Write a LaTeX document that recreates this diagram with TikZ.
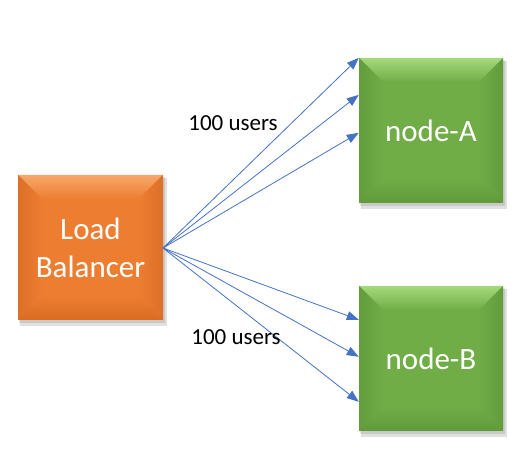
\documentclass[tikz,border=0pt]{standalone}
\usepackage{fontspec}
\setmainfont{Carlito}
\usetikzlibrary{arrows.meta}
\definecolor{arrowblue}{HTML}{4472C4}
\definecolor{orbase}{HTML}{ED7D31}
\definecolor{ortop}{HTML}{F6A86A}
\definecolor{orside}{HTML}{DC7028}
\definecolor{orbot}{HTML}{D86C22}
\definecolor{grbase}{HTML}{70AD47}
\definecolor{grtop}{HTML}{A6D97C}
\definecolor{grside}{HTML}{629C3C}
\definecolor{grbot}{HTML}{5F9A39}
\newcommand{\bevelbox}[7]{%
  % #1 name, #2 x1, #3 y1, #4 x2, #5 y2, #6 color prefix, #7 text
  \fill[black,opacity=0.12] (#2+2,#3+3) rectangle (#4+4,#5+6);
  \fill[black,opacity=0.10] (#2+1,#3+2) rectangle (#4+2,#5+3);
  \fill[#6base] (#2,#3) rectangle (#4,#5);
  \shade[top color=#6top,bottom color=#6base] (#2,#3) -- (#4,#3) -- (#4-24,#3+24) -- (#2+24,#3+24) -- cycle;
  \shade[left color=#6side,right color=#6base] (#2,#3) -- (#2+24,#3+24) -- (#2+24,#5-24) -- (#2,#5) -- cycle;
  \shade[left color=#6base,right color=#6side] (#4,#3) -- (#4-24,#3+24) -- (#4-24,#5-24) -- (#4,#5) -- cycle;
  \shade[top color=#6base,bottom color=#6bot] (#2,#5) -- (#2+24,#5-24) -- (#4-24,#5-24) -- (#4,#5) -- cycle;
  \fill[#6base] (#2+24,#3+24) rectangle (#4-24,#5-24);
  \node[boxtext] (#1) at ({(#2+#4)/2},{(#3+#5)/2}) [minimum width=#4-#2, minimum height=#5-#3] {#7};
}
\begin{document}
\begin{tikzpicture}[x=1pt,y=-1pt,
  boxtext/.style={text=white,font=\fontsize{31}{38}\selectfont,align=center,inner sep=0pt},
  lbl/.style={text=black,font=\fontsize{23}{28}\selectfont,inner sep=0pt},
  conn/.style={arrowblue,line width=0.8pt,-{Triangle[length=12pt,width=9pt]}}]
\useasboundingbox (0,0) rectangle (531,457);
\bevelbox{lb}{18}{175}{163}{320}{or}{Load\\Balancer}
\bevelbox{na}{359}{58}{503}{203}{gr}{node-A}
\bevelbox{nb}{359}{286}{503}{431}{gr}{node-B}
\coordinate (src) at (163,248);
\draw[conn] (src) -- (na.north west);
\draw[conn] (src) -- ([yshift=-37pt]na.north west);
\draw[conn] (src) -- ([yshift=-75pt]na.north west);
\draw[conn] (src) -- ([yshift=-34pt]nb.north west);
\draw[conn] (src) -- ([yshift=-71pt]nb.north west);
\draw[conn] (src) -- ([yshift=-116pt]nb.north west);
\node[lbl] (l1) at (233,123) {100 users};
\node[lbl] (l2) at (236,337) {100 users};
\end{tikzpicture}
\end{document}
